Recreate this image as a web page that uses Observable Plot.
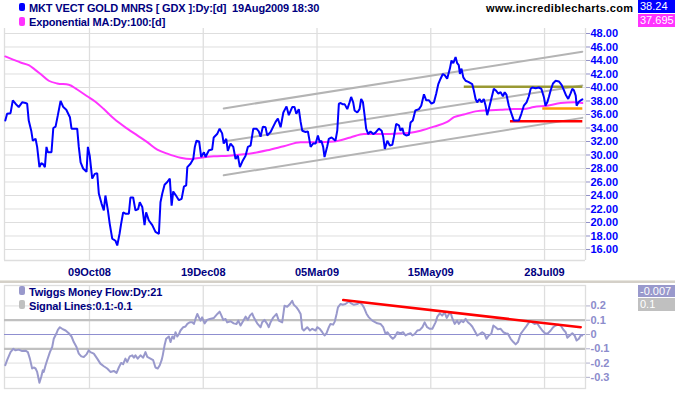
<!DOCTYPE html>
<html>
<head>
<meta charset="utf-8">
<script src="https://cdn.jsdelivr.net/npm/d3@7"></script>
<script src="https://cdn.jsdelivr.net/npm/@observablehq/plot@0.6"></script>
<style>
  html, body { margin: 0; padding: 0; background: #fff; }
  body { position: relative; width: 675px; height: 395px; overflow: hidden; font-family: "Liberation Sans", Arial, sans-serif; }
  #top, #bottom { position: absolute; left: 0; }
  #top { top: 0; }
  #bottom { top: 280px; }
  .t { position: absolute; z-index: 2; font-size: 11px; font-weight: bold; line-height: 12px; white-space: pre; color: #000080; letter-spacing: -0.15px; }
  .sw { position: absolute; z-index: 2; width: 6px; border-radius: 2px; }
  .box { position: absolute; z-index: 2; left: 638px; width: 35px; color: #fff; font-size: 11px; line-height: 13px; padding-left: 2px; white-space: pre; }
  .sep { position: absolute; z-index: 2; left: 0; width: 675px; top: 280px; height: 3px; background: #d4d0c8; border-top: 1px solid #e8e6df; box-sizing: border-box; }
</style>
</head>
<body>
<div id="top"></div>
<div id="bottom"></div>

<div class="sw" style="left:19px;top:3px;height:8px;background:#0000ff"></div>
<div class="t" style="left:29px;top:1.5px">MKT VECT GOLD MNRS [ GDX ]:Dy:[d]  19Aug2009 18:30</div>
<div class="sw" style="left:19px;top:17px;height:9px;background:#ff33ff"></div>
<div class="t" style="left:29px;top:15.5px">Exponential MA:Dy:100:[d]</div>
<div class="t" style="left:486px;top:1.5px;color:#000;letter-spacing:0.35px">www.incrediblecharts.com</div>
<div class="box" style="top:0px;height:13px;background:#0000ff">38.24</div>
<div class="box" style="top:14px;height:13px;background:#ff33ff">37.695</div>

<div class="sep"></div>

<div class="sw" style="left:19px;top:286px;height:9px;background:#9999cc"></div>
<div class="t" style="left:29px;top:285.5px">Twiggs Money Flow:Dy:21</div>
<div class="sw" style="left:19px;top:300px;height:9px;background:#c0c0c0"></div>
<div class="t" style="left:29px;top:299.5px">Signal Lines:0.1:-0.1</div>
<div class="box" style="top:285px;height:12px;line-height:12px;background:#9999cc">-0.007</div>
<div class="box" style="top:298px;height:13px;background:#c0c0c0">0.1</div>

<script>
// ---- axis ticks / labels ----
const xLabels = ["09Oct08", "19Dec08", "05Mar09", "15May09", "28Jul09"];
const xTickDays = [37, 87, 137, 187, 237]; // trading-day index of each label
const priceTicks = [16, 18, 20, 22, 24, 26, 28, 30, 32, 34, 36, 38, 40, 42, 44, 46, 48];
const tmfTicks = [0.2, 0.1, 0, -0.1, -0.2, -0.3];
const tmfTickLabels = ["0.2", "0.1", "0", "-0.1", "-0.2", "-0.3"];

// ---- GDX daily close (trading-day index, price) ----
const priceDay = [0,0.8,2.3,3.3,4.5,5.9,7.4,8.9,9.6,10.3,
11.4,12.1,13.3,14.0,15.0,15.8,16.7,17.4,18.1,18.7,
20.3,21.1,22.1,23.1,24.3,25.5,26.8,28.4,29.1,31.6,
32.3,33.1,34.2,35.7,36.3,37.1,38.2,39.3,40.4,41.1,
42.3,43.3,44.0,45.1,45.9,47.0,48.4,49.2,50.2,50.9,
51.8,52.8,54.3,55.0,56.2,57.2,58.4,59.1,60.2,61.2,
61.9,63.1,64.6,66.0,67.5,68.2,69.0,70.0,71.2,72.3,
73.1,73.8,74.8,76.3,77.5,78.5,79.5,80.0,81.4,82.6,
83.3,84.0,85.2,86.1,87.3,88.0,89.5,90.9,91.6,93.1,
94.2,95.3,96.0,97.1,97.8,99.0,100.2,101.2,102.2,103.1,
104.4,105.6,106.6,107.8,109.0,110.4,111.4,112.2,113.2,114.4,
115.1,116.6,118.8,119.8,121.0,122.2,123.6,124.6,126.1,127.1,
127.9,129.0,129.8,130.5,132.0,133.0,134.2,135.3,136.4,137.4,
138.2,138.9,139.7,140.3,141.5,142.2,143.4,144.1,145.1,145.9,
146.6,147.4,148.4,149.2,150.3,151.3,152.0,152.9,153.5,154.7,
155.7,156.4,157.2,157.9,158.6,159.5,160.5,161.7,162.7,164.2,
165.4,166.1,166.8,167.9,169.0,170.1,170.8,171.8,173.0,173.7,
174.5,175.2,176.2,177.4,178.1,179.1,180.2,181.8,182.8,184.0,
185.0,186.2,187.3,188.4,189.4,190.3,191.3,192.3,193.2,194.2,
195.4,196.1,196.9,197.9,198.6,199.3,199.8,200.5,201.3,202.3,
203.7,205.2,205.9,206.7,207.4,208.4,209.3,210.3,211.1,211.8,
212.5,213.6,214.7,215.5,216.7,217.7,218.7,219.5,220.3,221.3,
222.5,223.5,225.7,226.8,227.9,229.1,230.1,230.9,231.6,233.1,
234.5,235.6,236.7,237.4,238.2,238.9,239.7,240.7,241.9,243.3,
244.5,245.5,246.5,247.4,248.4,249.2,249.9,250.7,251.1,251.9,
252.9,253.6];
const priceClose = [35.1,36.1,36.2,38.1,37.6,37.1,37.8,37.7,37.6,35.1,
33.6,32.1,32.4,31.2,28.2,28.8,28.6,28.2,31.2,30.4,
30.4,34.0,34.2,35.9,38.0,37.1,36.7,35.6,33.9,33.9,
31.2,28.9,28.0,27.5,31.2,29.9,26.5,27.2,27.3,24.3,
22.8,21.8,24.0,21.8,19.8,17.6,17.3,16.6,18.3,19.8,
21.5,21.3,21.3,23.7,23.7,21.8,22.0,23.0,22.3,19.6,
21.5,20.3,19.6,18.6,18.3,23.0,24.3,25.6,26.0,26.5,
22.5,24.6,24.1,23.3,23.5,25.3,25.5,28.2,28.7,29.4,
31.2,32.1,32.0,29.7,30.4,29.7,30.7,30.8,32.6,33.1,
33.9,33.2,31.7,32.4,30.6,31.7,31.2,29.4,29.9,28.2,
29.2,29.9,31.2,31.4,33.9,33.9,33.5,32.7,34.2,34.1,
32.9,33.4,34.9,35.4,34.1,36.3,37.2,35.9,37.1,37.1,
36.1,36.8,34.9,33.6,33.4,33.5,31.2,31.7,31.7,32.9,
31.9,32.1,31.2,29.7,31.3,32.4,32.6,32.4,32.1,33.6,
37.6,37.7,37.5,37.5,36.8,37.8,38.6,37.8,36.6,36.3,
36.8,38.3,37.8,35.9,33.9,33.1,33.5,33.1,33.3,33.9,
33.6,32.7,30.9,32.1,31.4,31.5,32.7,34.6,34.4,33.6,
34.0,33.1,32.9,33.0,34.8,35.1,36.6,36.8,37.3,39.0,
38.1,38.1,37.6,37.8,39.1,40.5,41.3,42.0,41.8,41.3,
42.8,44.0,43.6,44.5,43.6,43.3,42.0,42.8,41.5,41.0,
40.8,40.5,39.6,38.3,37.8,38.3,37.8,38.3,37.3,35.9,
36.8,38.3,39.8,39.6,39.1,39.3,38.7,39.3,38.9,37.3,
36.1,35.1,35.1,36.1,37.3,37.8,38.7,39.8,40.0,39.9,
40.0,39.8,38.6,37.3,37.8,38.6,39.6,40.6,41.0,40.9,
40.4,39.6,38.8,38.3,39.1,39.8,39.6,38.8,37.3,37.8,
38.1,38.24];

// ---- 100-day exponential MA ----
const emaDay = [0,3.7,6.7,10.3,12.5,15.5,19.1,22.8,27.9,31.6,36.0,39.6,43.3,47.7,53.6,58.0,62.4,66.8,71.2,77.0,
81.4,85.8,91.6,98.2,104.8,109.2,115.1,122.4,129.8,137.1,144.4,151.7,157.6,166.4,173.7,178.1,182.5,188.4,194.2,197.2,
201.5,207.4,211.8,217.7,223.5,227.9,232.3,238.2,244.1,249.9,253.6];
const emaValue = [44.6,44.1,43.7,43.3,42.8,42.0,41.0,40.6,40.4,39.7,38.7,37.9,36.8,35.4,33.9,32.9,31.9,30.8,30.2,29.6,
29.4,29.6,29.8,29.9,30.1,30.3,30.7,31.3,31.9,31.9,32.0,32.6,33.1,33.1,33.2,33.3,33.6,34.2,34.9,35.6,
36.0,36.5,36.6,36.7,36.8,36.8,37.1,37.3,37.7,37.8,37.695];

// ---- trend channel (start day, end day) ----
const channelDays = [96, 253.6];
const channelUpper = [36.9, 45.3];
const channelMiddle = [32.0, 40.3];
const channelLower = [27.0, 35.5];

// ---- horizontal levels: resistance 40, 37 and support 35 ----
const levelValues = [40.1, 36.9, 35.0];
const levelFrom = [201.5, 236, 221.8];
const levelTo = [253.6, 253.6, 253.6];

// ---- Twiggs Money Flow (21 day) ----
const tmfDay = [0,0.8,2.3,3.5,4.5,5.9,7.4,8.9,9.9,10.8,
11.8,12.5,13.3,14.0,15.0,15.8,16.5,16.9,17.7,18.4,
19.6,20.6,21.3,22.4,23.1,24.0,25.0,26.5,27.9,29.1,
30.1,31.3,32.3,33.4,34.5,35.7,36.7,37.4,38.9,40.4,
41.8,43.3,44.8,46.2,47.7,48.9,49.9,50.9,51.8,52.8,
53.6,54.7,55.8,56.5,57.2,58.2,59.4,60.6,61.6,62.4,
63.8,65.0,66.0,67.0,67.9,68.7,69.2,70.0,70.7,71.9,
72.6,73.4,74.1,74.8,75.6,76.3,77.0,78.2,79.2,80.0,
81.1,82.2,82.9,83.6,84.4,85.1,85.8,86.5,87.6,88.7,
89.9,91.7,93.2,94.2,95.0,95.8,96.8,97.5,99.0,100.4,
101.6,102.4,103.4,104.6,105.6,106.6,107.5,108.5,109.2,110.7,
112.2,112.9,113.9,115.1,115.8,116.6,117.8,119.2,120.2,121.7,
122.7,123.9,125.1,126.1,126.8,128.0,129.0,129.8,130.5,131.2,
132.7,133.9,134.9,136.4,137.1,138.2,139.3,140.3,141.2,142.2,
142.9,144.1,144.8,145.6,146.2,147.3,148.3,149.5,151.0,152.0,
153.2,154.7,155.8,156.9,157.6,158.8,159.8,161.3,163.5,164.9,
166.1,167.1,167.9,168.6,169.3,170.3,171.1,172.3,173.7,174.9,
175.9,176.9,178.1,178.9,179.9,181.1,182.2,183.3,184.3,185.4,
186.6,187.7,189.1,189.9,191.0,192.0,193.1,194.0,195.0,195.7,
196.4,197.5,198.6,199.3,200.4,201.3,202.3,203.3,204.2,205.2,
206.2,207.4,208.6,209.6,210.6,211.5,212.5,213.6,214.5,215.5,
216.5,217.7,218.9,219.9,220.9,222.1,223.3,224.3,225.3,226.5,
227.6,228.7,229.7,230.6,231.6,232.6,233.8,234.9,236.0,237.4,
238.5,239.7,240.8,241.9,242.9,244.1,245.3,246.3,247.0,248.1,
249.2,250.2,251.1,252.1,252.9,253.6];
const tmfValue = [-0.215,-0.18,-0.123,-0.10,-0.111,-0.106,-0.116,-0.113,-0.123,-0.169,
-0.238,-0.231,-0.238,-0.262,-0.338,-0.296,-0.25,-0.262,-0.215,-0.18,
-0.123,-0.088,-0.030,0.005,0.033,0.051,0.04,0.028,0.009,-0.014,
-0.053,-0.088,-0.134,-0.153,-0.157,-0.139,-0.111,-0.123,-0.134,-0.169,
-0.204,-0.222,-0.238,-0.262,-0.255,-0.269,-0.231,-0.199,-0.208,-0.169,
-0.192,-0.153,-0.146,-0.162,-0.146,-0.169,-0.146,-0.162,-0.123,-0.157,
-0.169,-0.18,-0.231,-0.238,-0.215,-0.18,-0.146,-0.076,-0.030,-0.014,
-0.053,-0.014,-0.030,0.016,-0.014,0.002,0.028,0.051,0.056,0.074,
0.086,0.086,0.074,0.109,0.144,0.12,0.097,0.12,0.078,0.102,
0.109,0.116,0.144,0.16,0.132,0.102,0.109,0.085,0.093,0.078,
0.074,0.097,0.063,0.097,0.125,0.102,0.132,0.148,0.12,0.078,
0.051,0.086,0.102,0.074,0.051,0.086,0.12,0.144,0.097,0.085,
0.201,0.194,0.213,0.236,0.208,0.19,0.167,0.144,0.04,0.028,
0.051,0.028,0.04,0.028,0.051,0.04,0.016,-0.007,0.009,0.051,
0.074,0.069,0.09,0.144,0.19,0.213,0.208,0.213,0.231,0.218,
0.208,0.213,0.224,0.208,0.19,0.144,0.12,0.097,0.078,0.074,
0.051,0.005,0.016,0.002,-0.014,-0.030,-0.019,0.016,0.009,0.016,
-0.007,0.002,0.009,-0.007,0.002,0.028,0.032,0.051,0.085,0.051,
0.04,0.04,0.085,0.125,0.148,0.132,0.155,0.116,0.144,0.155,
0.116,0.074,0.097,0.074,0.097,0.086,0.109,0.086,0.074,0.056,
0.028,-0.007,0.005,0.016,0.005,-0.030,-0.007,0.005,0.063,0.051,
0.037,0.04,0.016,0.009,0.005,-0.030,-0.053,-0.069,-0.053,0.005,
0.028,0.051,0.074,0.093,0.085,0.074,0.078,0.051,0.028,0.005,
0.009,0.028,0.051,0.063,0.069,0.063,0.033,0.016,-0.023,-0.007,
0.009,-0.007,-0.042,-0.030,-0.007,-0.007];

// TMF descending trend line and signal lines
const tmfTrendDays = [148.5, 252.9];
const tmfTrendValues = [0.241, 0.051];
const signalLevels = [0.1, -0.1];
const zeroLevel = [0];

// ---- styles ----
const levelStroke = ["#999933", "#ff9900", "#ff0000"];
const gridColor = "#dedede";
const xDomain = [-0.35, 255];
const fontStyle = {fontFamily: "'Liberation Sans', Arial, sans-serif", fontSize: "11px", fontWeight: "bold", background: "transparent", overflow: "visible"};

const zip = (xs, ys) => xs.map((x, i) => ({x, y: ys[i]}));
const price = zip(priceDay, priceClose);
const ema = zip(emaDay, emaValue);
const tmf = zip(tmfDay, tmfValue);
const levels = levelValues.map((v, i) => ({v, from: levelFrom[i], to: levelTo[i], c: levelStroke[i]}));

const topDomain = [14.37, 48.74];
const topChart = Plot.plot({
  width: 675, height: 280,
  marginTop: 28, marginBottom: 20, marginLeft: 4, marginRight: 90,
  x: {domain: xDomain},
  y: {domain: topDomain},
  style: fontStyle,
  marks: [
    Plot.gridY(priceTicks, {stroke: gridColor, strokeOpacity: 1}),
    Plot.gridX(xTickDays, {stroke: gridColor, strokeOpacity: 1, strokeWidth: 1.3}),
    Plot.ruleX(xDomain, {stroke: gridColor, strokeWidth: 1.3}),
    Plot.ruleY([topDomain[0]], {stroke: gridColor, strokeWidth: 1.3}),
    Plot.line(zip(channelDays, channelUpper), {x: "x", y: "y", stroke: "#b4b4b4", strokeWidth: 2}),
    Plot.line(zip(channelDays, channelMiddle), {x: "x", y: "y", stroke: "#b4b4b4", strokeWidth: 2}),
    Plot.line(zip(channelDays, channelLower), {x: "x", y: "y", stroke: "#b4b4b4", strokeWidth: 2}),
    Plot.line(ema, {x: "x", y: "y", stroke: "#ff33ff", strokeWidth: 2, curve: "monotone-x"}),
    Plot.link(levels, {x1: "from", x2: "to", y1: "v", y2: "v", stroke: d => d.c, strokeWidth: 2.5}),
    Plot.line(price, {x: "x", y: "y", stroke: "#0000ff", strokeWidth: 2, strokeLinejoin: "miter"}),
    Plot.axisY(priceTicks, {anchor: "right", label: null, tickSize: 4, tickPadding: 1,
      tickFormat: d => d.toFixed(2), fill: "#0000ff", stroke: "#9090c8"}),
    Plot.axisX(xTickDays, {anchor: "bottom", label: null, tickSize: 0, tickPadding: 8,
      tickFormat: d => xLabels[xTickDays.indexOf(d)], fill: "#000080"})
  ]
});
document.getElementById("top").appendChild(topChart);

const botDomain = [-0.378, 0.343];
const bottomChart = Plot.plot({
  width: 675, height: 115,
  marginTop: 5, marginBottom: 7, marginLeft: 4, marginRight: 90,
  x: {domain: xDomain, axis: null},
  y: {domain: botDomain},
  style: fontStyle,
  marks: [
    Plot.gridY(tmfTicks, {stroke: gridColor, strokeOpacity: 1}),
    Plot.gridX(xTickDays, {stroke: gridColor, strokeOpacity: 1, strokeWidth: 1.3}),
    Plot.frame({stroke: gridColor, strokeWidth: 1.3}),
    Plot.ruleY(signalLevels, {stroke: "#c0c0c0", strokeWidth: 2.2}),
    Plot.ruleY(zeroLevel, {stroke: "#8f8fd0", strokeWidth: 1}),
    Plot.line(tmf, {x: "x", y: "y", stroke: "#9999cc", strokeWidth: 2}),
    Plot.line(zip(tmfTrendDays, tmfTrendValues), {x: "x", y: "y", stroke: "#ff0000", strokeWidth: 2.5}),
    Plot.axisY(tmfTicks, {anchor: "right", label: null, tickSize: 4, tickPadding: 1,
      tickFormat: d => tmfTickLabels[tmfTicks.indexOf(d)], fill: "#8c8ccc", stroke: "#b0b0cc"})
  ]
});
document.getElementById("bottom").appendChild(bottomChart);
</script>
</body>
</html>
